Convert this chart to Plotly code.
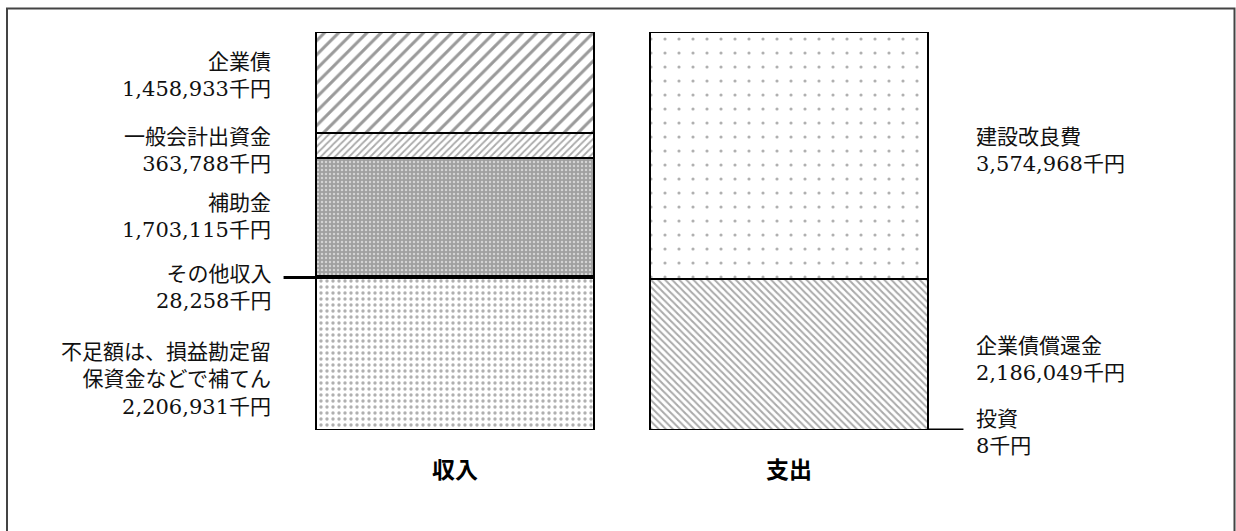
import plotly.graph_objects as go

# ---- data (千円) ----
categories = ["収入", "支出"]

income_names = ["不足額は、損益勘定留<br>保資金などで補てん", "その他収入", "補助金", "一般会計出資金", "企業債"]
income_values = [2206931, 28258, 1703115, 363788, 1458933]

expense_names = ["投資", "企業債償還金", "建設改良費"]
expense_values = [8, 2186049, 3574968]

W, H = 1236, 531
FONT_LBL = "'DejaVu Serif', 'Liberation Serif', 'Noto Sans CJK JP', serif"
FONT_CAT = "'Noto Sans CJK JP', sans-serif"

income_patterns = [
    dict(shape=".", fgcolor="#b0b0b0", bgcolor="#ffffff", size=6, solidity=0.25),
    dict(shape=".", fgcolor="#b0b0b0", bgcolor="#ffffff", size=6, solidity=0.25),
    dict(shape=".", fgcolor="#d4d4d4", bgcolor="#a0a0a0", size=4, solidity=0.3),
    dict(shape="/", fgcolor="#aaaaaa", bgcolor="#ffffff", size=5, solidity=0.35),
    dict(shape="/", fgcolor="#9a9a9a", bgcolor="#ffffff", size=10, solidity=0.3),
]
expense_patterns = [
    dict(shape="\\", fgcolor="#aaaaaa", bgcolor="#ffffff", size=5, solidity=0.4),
    dict(shape="\\", fgcolor="#aaaaaa", bgcolor="#ffffff", size=5, solidity=0.4),
    dict(shape=".", fgcolor="#b0b0b0", bgcolor="#ffffff", size=14, solidity=0.04),
]

BAR_W = 0.835
fig = go.Figure()
for name, val, pat in zip(income_names, income_values, income_patterns):
    fig.add_trace(go.Bar(x=[0], y=[val], name=name, width=BAR_W,
                         marker=dict(color="white", pattern=dict(fillmode="replace", **pat),
                                     line=dict(color="black", width=2))))
for name, val, pat in zip(expense_names, expense_values, expense_patterns):
    fig.add_trace(go.Bar(x=[1], y=[val], name=name, width=BAR_W,
                         marker=dict(color="white", pattern=dict(fillmode="replace", **pat),
                                     line=dict(color="black", width=2))))

total = max(sum(income_values), sum(expense_values))

# pixel helpers for layout positions
def px(x):
    return x / W

def py(y):
    return 1 - y / H

# axis mapping: bar centre 0 -> 455 px, 1 -> 789 px
unit = 789 - 455
x_range = [-455 / unit, (W - 455) / unit]

# labels (left side, right aligned)
left_labels = [
    (income_names[4], income_values[4], 76),
    (income_names[3], income_values[3], 150),
    (income_names[2], income_values[2], 216),
    (income_names[1], income_values[1], 287),
    (income_names[0], income_values[0], 379),
]
right_labels = [
    (expense_names[2], expense_values[2], 150),
    (expense_names[1], expense_values[1], 359),
    (expense_names[0], expense_values[0], 432),
]
annotations = []
for name, val, yc in left_labels:
    annotations.append(dict(text=f"{name}<br>{val:,}千円", x=px(273), y=py(yc), xref="paper", yref="paper",
                            xanchor="right", yanchor="middle", align="right", showarrow=False,
                            font=dict(family=FONT_LBL, size=21, color="#111")))
for name, val, yc in right_labels:
    annotations.append(dict(text=f"{name}<br>{val:,}千円", x=px(974), y=py(yc), xref="paper", yref="paper",
                            xanchor="left", yanchor="middle", align="left", showarrow=False,
                            font=dict(family=FONT_LBL, size=21, color="#111")))

shapes = [
    # outer frame
    dict(type="rect", xref="paper", yref="paper", x0=px(7), x1=px(1234.5), y0=-0.2, y1=py(8.5),
         line=dict(color="#444", width=2), fillcolor="rgba(0,0,0,0)", layer="below"),
    # leader line: その他収入
    dict(type="line", xref="x", yref="y", x0=-BAR_W / 2 - 32 / unit, x1=-BAR_W / 2,
         y0=income_values[0], y1=income_values[0], line=dict(color="black", width=3)),
    # leader line: 投資
    dict(type="line", xref="x", yref="y", x0=1 + BAR_W / 2, x1=1 + BAR_W / 2 + 35 / unit,
         y0=expense_values[0], y1=expense_values[0], line=dict(color="black", width=3)),
]

fig.update_layout(
    width=W, height=H, margin=dict(l=0, r=0, t=0, b=0),
    paper_bgcolor="white", plot_bgcolor="white",
    barmode="stack", showlegend=False, hovermode=False,
    annotations=annotations, shapes=shapes,
    xaxis=dict(range=x_range, tickvals=[0, 1], ticktext=categories, showgrid=False, zeroline=False,
               showline=False, ticks="", ticklabelstandoff=24,
               tickfont=dict(family=FONT_CAT, size=23, color="black", weight="bold")),
    yaxis=dict(range=[0, total], domain=[py(430), py(32)], visible=False, showgrid=False),
)

fig.write_html("out.html")
